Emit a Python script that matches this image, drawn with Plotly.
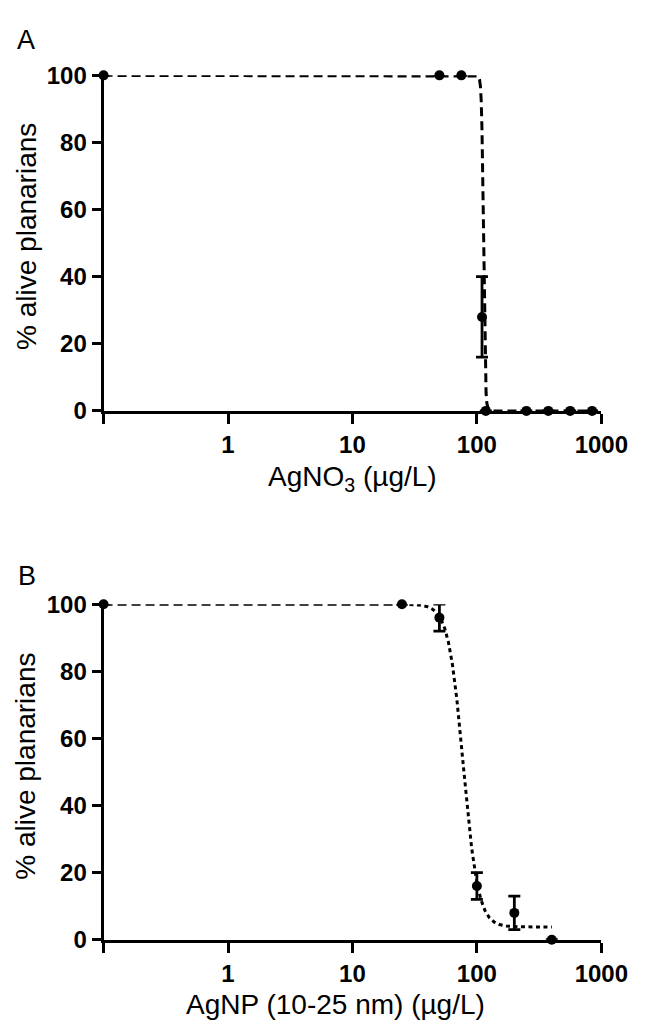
import numpy as np
import plotly.graph_objects as go

# Panel A: AgNO3 exposure (first point = control, plotted at axis start)
agno3_conc = [0.1, 50, 75, 110, 118, 250, 375, 562, 843]
agno3_alive = [100, 100, 100, 28, 0, 0, 0, 0, 0]
agno3_err = [0, 0, 0, 12, 0, 0, 0, 0, 0]

# Panel B: AgNP (10-25 nm) exposure
agnp_conc = [0.1, 25, 50, 100, 200, 400]
agnp_alive = [100, 100, 96, 16, 8, 0]
agnp_err = [0, 0, 4, 4, 5, 0]

# Fitted dose-response parameters (top, bottom, logEC50, Hill slope)
fit_a = dict(top=100.0, bottom=0.0, log_ec50=2.053, hill=60.0)
fit_b = dict(top=100.0, bottom=3.8, log_ec50=1.891, hill=7.3)

y_ticks = [0, 20, 40, 60, 80, 100]
x_ticks = [1, 10, 100, 1000]
x_ticktext = ["1", "10", "100", "1000"]
x_start = 0.1

W, H = 659, 1036
FONT = "Liberation Sans, Arial, Helvetica, sans-serif"


def hill_curve(p, x_lo, x_hi, n=600):
    lx = np.linspace(np.log10(x_lo), np.log10(x_hi), n)
    y = p["bottom"] + (p["top"] - p["bottom"]) / (1 + 10 ** ((lx - p["log_ec50"]) * p["hill"]))
    return 10 ** lx, y


def px_x(v):
    return v / W


def px_y(v):
    return 1 - v / H


fig = go.Figure()

# ---- Panel A ----
cx, cy = hill_curve(fit_a, min(agno3_conc), max(agno3_conc))
fig.add_trace(go.Scatter(x=cx, y=cy, mode="lines", xaxis="x", yaxis="y",
                         line=dict(color="black", width=3, dash="9px,5px"),
                         cliponaxis=False, hoverinfo="skip"))
fig.add_trace(go.Scatter(x=agno3_conc, y=agno3_alive, mode="markers", xaxis="x", yaxis="y",
                         marker=dict(color="black", size=10),
                         error_y=dict(type="data", array=agno3_err, visible=True,
                                      color="black", thickness=2.8, width=6),
                         cliponaxis=False))

# ---- Panel B ----
split = agnp_conc[1]
bx1, by1 = hill_curve(fit_b, min(agnp_conc), split, n=200)
bx2, by2 = hill_curve(fit_b, split, max(agnp_conc), n=600)
fig.add_trace(go.Scatter(x=bx1, y=by1, mode="lines", xaxis="x2", yaxis="y2",
                         line=dict(color="black", width=3, dash="9px,5px"),
                         cliponaxis=False, hoverinfo="skip"))
fig.add_trace(go.Scatter(x=bx2, y=by2, mode="lines", xaxis="x2", yaxis="y2",
                         line=dict(color="black", width=3, dash="4px,3.5px"),
                         cliponaxis=False, hoverinfo="skip"))
fig.add_trace(go.Scatter(x=agnp_conc, y=agnp_alive, mode="markers", xaxis="x2", yaxis="y2",
                         marker=dict(color="black", size=10),
                         error_y=dict(type="data", array=agnp_err, visible=True,
                                      color="black", thickness=2.8, width=6),
                         cliponaxis=False))

x_dom = [px_x(108), px_x(627)]
ya_dom = [px_y(407.5), px_y(63)]
yb_dom = [px_y(950.5), px_y(606)]

tickfont = dict(family=FONT, size=24, color="black", weight="bold")
common_x = dict(type="log", range=[-1, 3], tickmode="array", tickvals=x_ticks,
                ticktext=x_ticktext,
                minor=dict(tickmode="array", tickvals=[x_start], ticks="outside",
                           ticklen=10, tickwidth=2.8, tickcolor="black", showgrid=False),
                showline=True, linecolor="black", linewidth=3, ticks="outside",
                ticklen=10, tickwidth=2.8, tickcolor="black", tickfont=tickfont,
                showgrid=False, zeroline=False, domain=x_dom, fixedrange=True)
common_y = dict(range=[0, 100], tickvals=y_ticks, showline=True, linecolor="black",
                linewidth=3, ticks="outside", ticklen=9, tickwidth=2.8,
                tickcolor="black", tickfont=tickfont, showgrid=False, zeroline=False,
                fixedrange=True)

fig.update_layout(
    width=W, height=H,
    margin=dict(l=0, r=0, t=0, b=0),
    paper_bgcolor="white", plot_bgcolor="white",
    showlegend=False,
    xaxis=dict(anchor="y", **common_x),
    yaxis=dict(anchor="x", domain=ya_dom, **common_y),
    xaxis2=dict(anchor="y2", **common_x),
    yaxis2=dict(anchor="x2", domain=yb_dom, **common_y),
)

title_font = dict(family=FONT, size=28, color="black")
label_font = dict(family=FONT, size=27, color="black")
annotations = [
    dict(text="A", x=px_x(27), y=px_y(27), font=label_font),
    dict(text="B", x=px_x(28), y=px_y(577), font=label_font),
    dict(text="% alive planarians", x=px_x(27), y=px_y(228), textangle=-90, font=title_font),
    dict(text="% alive planarians", x=px_x(27), y=px_y(772), textangle=-90, font=title_font),
    dict(text="AgNO<sub>3</sub> (µg/L)", x=px_x(368), y=px_y(477), font=title_font),
    dict(text="AgNP (10-25 nm) (µg/L)", x=px_x(350), y=px_y(1017), font=title_font),
]
for a in annotations:
    fig.add_annotation(xref="paper", yref="paper", showarrow=False,
                       xanchor="center", yanchor="middle", **a)

fig.write_html("out.html")
